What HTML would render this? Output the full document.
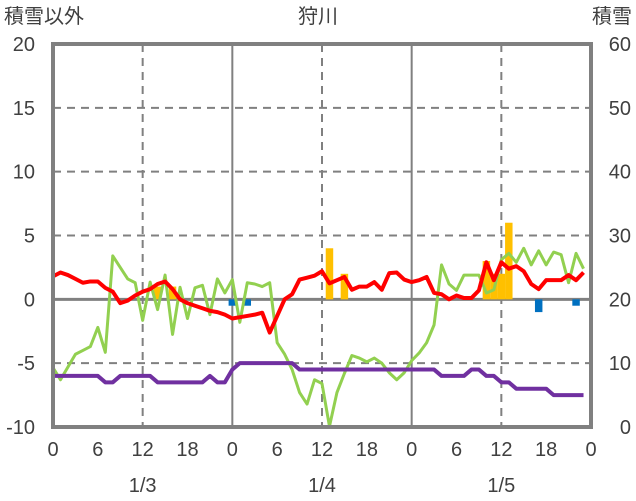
<!DOCTYPE html>
<html><head><meta charset="utf-8"><style>
html,body{margin:0;padding:0;background:#fff;}
svg{display:block;font-family:"Liberation Sans","Noto Sans CJK JP",sans-serif;}
</style></head><body>
<svg id="chart" width="636" height="501" viewBox="0 0 636 501">
<g id="grid"></g>
<g id="bars"></g>
<g id="lines"></g>
<g id="axes"></g>
<text x="4" y="23" font-size="20" fill="#404040">積雪以外</text>
<text x="318" y="23" font-size="20" fill="#404040" text-anchor="middle">狩川</text>
<text x="632" y="23" font-size="20" fill="#404040" text-anchor="end">積雪</text>
</svg>
<script>
const leftTicks=[20,15,10,5,0,-5,-10];
const rightTicks=[60,50,40,30,20,10,0];
const xTickLabels=["0","6","12","18","0","6","12","18","0","6","12","18","0"];
const dayLabels=["1/3","1/4","1/5"];
const temperature=[1.8,2.1,1.9,1.6,1.3,1.4,1.4,0.9,0.6,-0.3,-0.1,0.3,0.6,0.8,1.2,1.4,0.8,0.0,-0.3,-0.5,-0.7,-0.9,-1.0,-1.2,
-1.5,-1.4,-1.3,-1.2,-1.05,-2.6,-1.3,0.0,0.4,1.55,1.7,1.85,2.2,1.25,1.5,1.75,0.75,1.0,1.0,1.35,0.75,2.05,2.1,1.55,
1.35,1.5,1.75,0.5,0.4,0.0,0.3,0.1,0.1,0.7,2.9,1.5,2.9,2.4,2.6,2.2,1.2,0.8,1.5,1.5,1.5,1.9,1.5,2.1];
const wind=[-5.35,-6.3,-5.3,-4.3,-4.0,-3.7,-2.2,-4.15,3.4,2.5,1.6,1.3,-1.65,1.35,-0.8,1.9,-2.75,0.95,-1.5,0.9,1.1,-1.2,1.6,0.5,
1.55,-1.8,1.3,1.2,1.0,1.3,-3.4,-4.3,-5.5,-7.3,-8.2,-6.3,-6.6,-9.95,-7.3,-5.8,-4.4,-4.6,-4.9,-4.6,-5.0,-5.75,-6.3,-5.75,
-4.8,-4.2,-3.4,-2.0,2.7,1.2,0.7,1.9,1.9,1.9,0.5,0.75,3.1,3.6,2.9,4.0,2.7,3.8,2.7,3.7,3.5,1.3,3.6,2.4];
const snowDepth=[8,8,8,8,8,8,8,7,7,8,8,8,8,8,7,7,7,7,7,7,7,8,7,7,
9,10,10,10,10,10,10,10,10,9,9,9,9,9,9,9,9,9,9,9,9,9,9,9,
9,9,9,9,8,8,8,8,9,9,8,8,7,7,6,6,6,6,6,5,5,5,5,5];
const precipHours=[14,16,37,39,58,59,60,61];
const precipValues=[1.0,1.0,4.0,2.0,3.0,2.0,2.0,6.0];
const snowChangeHours=[24,26,65,70];
const snowChangeValues=[-0.5,-0.5,-1.0,-0.5];

const X0=53,X1=591,YT=44,YB=427,HOURS=72;
const xs=h=>X0+(X1-X0)*h/HOURS;
const yl=v=>YB-(YB-YT)*(v+10)/30;
const yr=v=>YB-(YB-YT)*v/60;
const NS="http://www.w3.org/2000/svg";
function mk(tag,parent,attrs){const e=document.createElementNS(NS,tag);for(const k in attrs)e.setAttribute(k,attrs[k]);parent.appendChild(e);return e;}
const grid=document.getElementById('grid'),bars=document.getElementById('bars'),lines=document.getElementById('lines'),axes=document.getElementById('axes');

leftTicks.forEach((v,i)=>{
  if(v===20||v===-10)return;
  const l=mk('line',grid,{x1:X0,x2:X1,y1:yl(v),y2:yl(v),stroke:'#808080','stroke-width':v===0?3:2,'stroke-dasharray':v===0?'none':'8,6'});
  
  
});
for(let h=12;h<HOURS;h+=12){
  const day=h%24===0;
  const l=mk('line',grid,{x1:xs(h),x2:xs(h),y1:YT,y2:YB,stroke:'#808080','stroke-width':2,'stroke-dasharray':day?'none':'8,6'});
  
  
}
const bw=(X1-X0)/HOURS;
precipHours.forEach((h,i)=>{
  const v=precipValues[i];
  const r=mk('rect',bars,{x:xs(h)-bw/2,y:yl(v),width:bw,height:yl(0)-yl(v),fill:'#ffc000'});
  
  
});
snowChangeHours.forEach((h,i)=>{
  const v=snowChangeValues[i];
  const r=mk('rect',bars,{x:xs(h)-bw/2,y:yl(0),width:bw,height:yl(v)-yl(0),fill:'#0070c0'});
  
  
});
function line(arr,fy,color,w,name){
  const p=mk('polyline',lines,{points:arr.map((v,i)=>xs(i)+','+fy(v)).join(' '),fill:'none',stroke:color,'stroke-width':w,'stroke-linejoin':'round'});
  
  
}
line(wind,yl,'#92d050',3,'wind-line');
line(snowDepth,yr,'#7030a0',4,'snow-depth-line');
line(temperature,yl,'#ff0000',4,'temperature-line');

const border=mk('rect',axes,{x:X0,y:YT,width:X1-X0,height:YB-YT,fill:'none',stroke:'#808080','stroke-width':4});


leftTicks.forEach(v=>{
  const t=mk('text',axes,{x:35,y:yl(v)+7,'font-size':20,fill:'#404040','text-anchor':'end'});
  t.textContent=v;
  
  
});
rightTicks.forEach(v=>{
  const t=mk('text',axes,{x:631,y:yr(v)+7,'font-size':20,fill:'#404040','text-anchor':'end'});
  t.textContent=v;
  
  
});
xTickLabels.forEach((s,i)=>{
  const t=mk('text',axes,{x:xs(i*6),y:456,'font-size':20,fill:'#404040','text-anchor':'middle'});
  t.textContent=s;
  
  
});
dayLabels.forEach((s,i)=>{
  const t=mk('text',axes,{x:xs(12+24*i),y:492,'font-size':20,fill:'#404040','text-anchor':'middle'});
  t.textContent=s;
  
  
});
</script>
</body></html>
